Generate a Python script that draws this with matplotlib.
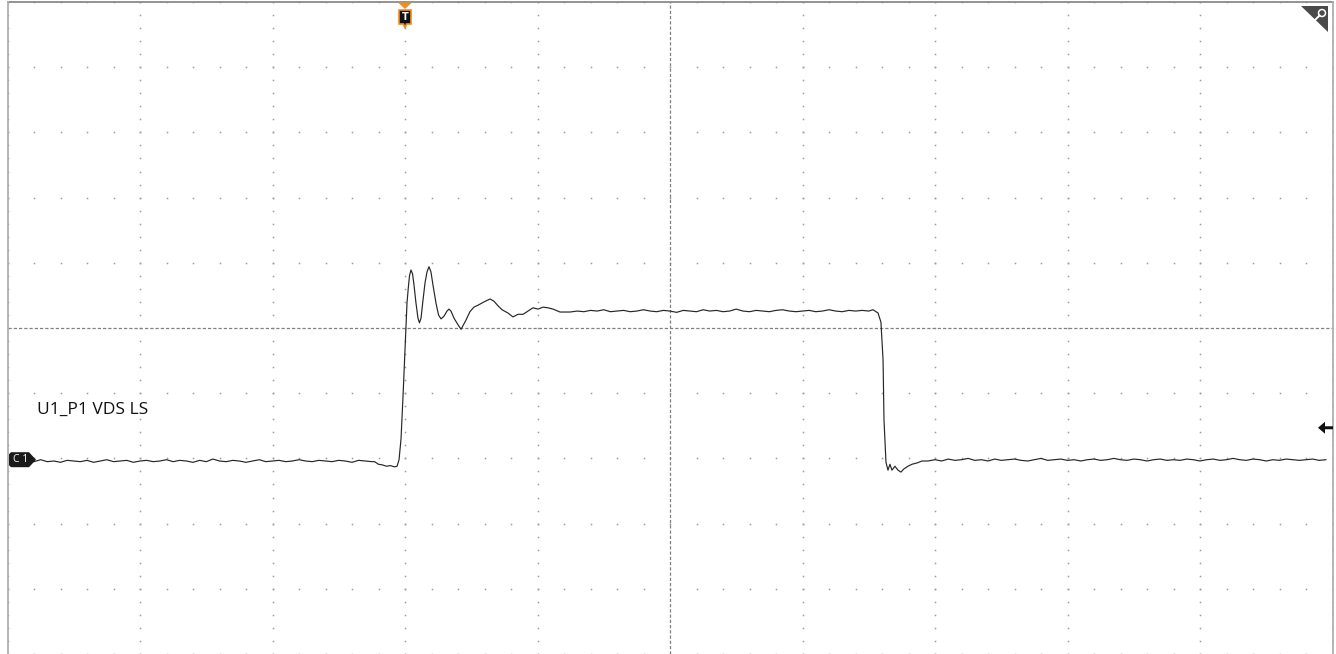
"""
Oscilloscope capture of U1_P1 VDS LS redrawn with matplotlib.
Trace values are read off the screen in divisions (10 x 10 grid, centre = 0).
"""

import numpy as np
import matplotlib
matplotlib.use("Agg")
import matplotlib.pyplot as plt
from matplotlib.patches import Polygon, Circle
from matplotlib.lines import Line2D
from matplotlib.transforms import IdentityTransform

# ------------------------------------------------------------
# Trace data (time / voltage in screen divisions)
# ------------------------------------------------------------
base_left_t = [-4.95, -4.90, -4.85, -4.80, -4.75, -4.70, -4.65, -4.60, -4.55, -4.50,
               -4.45, -4.40, -4.35, -4.30, -4.25, -4.20, -4.15, -4.10, -4.05, -4.00,
               -3.95, -3.90, -3.85, -3.80, -3.75, -3.70, -3.65, -3.60, -3.55, -3.50,
               -3.45, -3.40, -3.35, -3.30, -3.25, -3.20, -3.15, -3.10, -3.05, -3.00,
               -2.95, -2.90, -2.85, -2.80, -2.75, -2.70, -2.65, -2.60, -2.55, -2.50,
               -2.45, -2.40, -2.35, -2.30, -2.25]
base_left_v = [-2.03, -2.06, -2.04, -2.05, -2.02, -2.05, -2.04, -2.06, -2.03, -2.04,
               -2.05, -2.03, -2.06, -2.04, -2.02, -2.05, -2.04, -2.03, -2.06, -2.04,
               -2.03, -2.05, -2.04, -2.02, -2.05, -2.03, -2.04, -2.06, -2.03, -2.05,
               -2.01, -2.04, -2.05, -2.03, -2.04, -2.06, -2.04, -2.02, -2.05, -2.04,
               -2.03, -2.05, -2.04, -2.02, -2.04, -2.05, -2.03, -2.04, -2.05, -2.03,
               -2.04, -2.06, -2.03, -2.04, -2.05]

edge_up_t = [-2.23, -2.20, -2.17, -2.14, -2.11, -2.08, -2.06, -2.045, -2.03, -2.015,
             -2.00, -1.985, -1.975, -1.966, -1.955, -1.943, -1.932, -1.917, -1.902, -1.891,
             -1.879, -1.864, -1.849, -1.834, -1.819, -1.804, -1.789, -1.766, -1.747, -1.728,
             -1.706, -1.683, -1.668, -1.653, -1.630, -1.600, -1.577, -1.540, -1.510, -1.480,
             -1.449, -1.404, -1.358, -1.328, -1.298, -1.268, -1.223, -1.185, -1.147, -1.109,
             -1.072, -1.034, -0.996, -0.958, -0.921, -0.883, -0.830, -0.755]
edge_up_v = [-2.05, -2.09, -2.10, -2.12, -2.11, -2.13, -2.12, -2.02, -1.70, -1.05,
             -0.35, 0.38, 0.62, 0.80, 0.89, 0.83, 0.66, 0.38, 0.15, 0.08,
             0.15, 0.43, 0.69, 0.86, 0.94, 0.86, 0.66, 0.38, 0.20, 0.14,
             0.18, 0.26, 0.29, 0.26, 0.15, 0.05, -0.02, 0.12, 0.25, 0.32,
             0.35, 0.40, 0.445, 0.41, 0.34, 0.28, 0.23, 0.17, 0.21, 0.21,
             0.26, 0.31, 0.29, 0.32, 0.31, 0.29, 0.245, 0.245]

top_t = [-0.70, -0.65, -0.60, -0.55, -0.50, -0.45, -0.40, -0.35, -0.30, -0.25,
         -0.20, -0.15, -0.10, -0.05, 0.00, 0.05, 0.10, 0.15, 0.20, 0.25,
         0.30, 0.35, 0.40, 0.45, 0.50, 0.55, 0.60, 0.65, 0.70, 0.75,
         0.80, 0.85, 0.90, 0.95, 1.00, 1.05, 1.10, 1.15, 1.20, 1.25,
         1.30, 1.35, 1.40, 1.45, 1.50]
top_v = [0.26, 0.25, 0.27, 0.26, 0.28, 0.25, 0.26, 0.27, 0.25, 0.26,
         0.28, 0.26, 0.25, 0.27, 0.26, 0.24, 0.27, 0.26, 0.25, 0.28,
         0.26, 0.27, 0.25, 0.26, 0.29, 0.26, 0.25, 0.27, 0.26, 0.25,
         0.27, 0.28, 0.26, 0.25, 0.26, 0.27, 0.25, 0.26, 0.28, 0.26,
         0.25, 0.27, 0.26, 0.27, 0.26]

edge_down_t = [1.532, 1.57, 1.592, 1.608, 1.615, 1.63, 1.645, 1.66, 1.675, 1.698,
               1.72, 1.743, 1.766, 1.796, 1.826, 1.864, 1.902, 1.947]
edge_down_v = [0.28, 0.23, 0.09, -0.49, -1.41, -2.06, -2.18, -2.09, -2.18, -2.12,
               -2.18, -2.21, -2.16, -2.12, -2.09, -2.07, -2.04, -2.04]

base_right_t = [2.00, 2.05, 2.10, 2.15, 2.20, 2.25, 2.30, 2.35, 2.40, 2.45,
                2.50, 2.55, 2.60, 2.65, 2.70, 2.75, 2.80, 2.85, 2.90, 2.95,
                3.00, 3.05, 3.10, 3.15, 3.20, 3.25, 3.30, 3.35, 3.40, 3.45,
                3.50, 3.55, 3.60, 3.65, 3.70, 3.75, 3.80, 3.85, 3.90, 3.95,
                4.00, 4.05, 4.10, 4.15, 4.20, 4.25, 4.30, 4.35, 4.40, 4.45,
                4.50, 4.55, 4.60, 4.65, 4.70, 4.75, 4.80, 4.85, 4.90, 4.95]
base_right_v = [-2.02, -2.04, -2.01, -2.03, -2.02, -2.00, -2.03, -2.02, -2.04, -2.01,
                -2.03, -2.02, -2.01, -2.03, -2.04, -2.02, -2.00, -2.03, -2.02, -2.01,
                -2.03, -2.02, -2.04, -2.02, -2.01, -2.03, -2.02, -2.00, -2.02, -2.03,
                -2.01, -2.02, -2.04, -2.02, -2.01, -2.03, -2.02, -2.03, -2.01, -2.02,
                -2.04, -2.02, -2.01, -2.03, -2.02, -2.00, -2.02, -2.03, -2.01, -2.02,
                -2.04, -2.02, -2.03, -2.01, -2.02, -2.03, -2.02, -2.01, -2.03, -2.02]

channel_label = "U1_P1 VDS LS"
channel_tag = "C1"
trigger_t = -2.0      # trigger position (div)
ground_v = -2.02      # channel offset marker (div)
trig_level_v = -1.53  # trigger level arrow (div)

W, H = 1336, 654


def px(x, y_top):
    """image pixel (origin top-left) -> display coords"""
    return (x, H - y_top)


def main():
    fig = plt.figure(figsize=(W / 100, H / 100), dpi=100)
    fig.patch.set_facecolor("white")
    ax = fig.add_axes([7.5 / W, 0, 1325 / W, 652 / H])
    ax.set_xlim(-5, 5)
    ax.set_ylim(-5, 5)
    ax.set_axis_off()

    # dotted graticule
    minor = np.arange(-5, 5.001, 0.2)
    for g in range(-5, 6):
        if g == 0:
            continue
        ax.plot(np.full_like(minor, g), minor, ls="none", marker="s", ms=1.1,
                mec="none", mfc="#9a9a9a", zorder=1)
        ax.plot(minor, np.full_like(minor, g), ls="none", marker="s", ms=1.1,
                mec="none", mfc="#9a9a9a", zorder=1)
    ax.axvline(0, color="#808080", lw=0.9, ls=(0, (2.6, 1.6)), zorder=1)
    ax.axhline(0, color="#808080", lw=0.9, ls=(0, (2.6, 1.6)), zorder=1)

    # frame (top, left, right)
    ax.axhline(5, color="#8a8a8a", lw=1.3, clip_on=False, zorder=2)
    ax.axvline(-5, color="#b0b0b0", lw=1.3, clip_on=False, zorder=2)
    ax.axvline(5, color="#b0b0b0", lw=1.3, clip_on=False, zorder=2)

    # trace
    t = base_left_t + edge_up_t + top_t + edge_down_t + base_right_t
    v = base_left_v + edge_up_v + top_v + edge_down_v + base_right_v
    ax.plot(t, v, color="#262626", lw=0.85, zorder=3)

    # channel label
    ax.text(37, H - 410, channel_label, transform=IdentityTransform(),
            fontsize=12.5, family="Open Sans", color="#111111", va="center", ha="left")

    ident = IdentityTransform()

    # C1 offset tag
    gy = H - ax.transData.transform((0, ground_v))[1]
    tag = Polygon([px(11, gy - 7.5), px(29, gy - 7.5), px(36, gy), px(29, gy + 7.5),
                   px(11, gy + 7.5), px(9, gy + 5.5), px(9, gy - 5.5)],
                  closed=True, fc="#1a1a1a", ec="none", transform=ident, zorder=5)
    fig.add_artist(tag)
    fig.text(21 / W, (H - gy) / H, "C 1", color="white", fontsize=7.5,
             ha="center", va="center", family="Open Sans", zorder=6)

    # trigger position marker
    tx = ax.transData.transform((trigger_t, 0))[0]
    tri = Polygon([px(tx - 7, 2.5), px(tx + 7, 2.5), px(tx, 9)], closed=True,
                  fc="#f28c1e", ec="none", transform=ident, zorder=5)
    box = Polygon([px(tx - 6, 10), px(tx + 6, 10), px(tx + 6, 24), px(tx + 1.5, 24),
                   px(tx, 28), px(tx - 1.5, 24), px(tx - 6, 24)], closed=True,
                  fc="#111111", ec="#f28c1e", lw=1.2, transform=ident, zorder=5)
    fig.add_artist(tri)
    fig.add_artist(box)
    fig.text(tx / W, (H - 17) / H, "T", color="white", fontsize=7, weight="bold",
             ha="center", va="center", zorder=6)

    # zoom corner
    corner = Polygon([px(1301, 6), px(1328, 6), px(1328, 32)], closed=True,
                     fc="#4a4a4a", ec="none", transform=ident, zorder=5)
    fig.add_artist(corner)
    fig.add_artist(Circle(px(1322, 13), 3.5, fc="none", ec="white", lw=1.1,
                          transform=ident, zorder=6))
    fig.add_artist(Line2D([1319.5, 1314], [H - 15.5, H - 21], color="white", lw=1.4,
                          transform=ident, zorder=6))

    # trigger level arrow
    ly = H - ax.transData.transform((0, trig_level_v))[1]
    arrow = Polygon([px(1318, ly), px(1325, ly - 6), px(1325, ly - 1.5), px(1333, ly - 1.5),
                     px(1333, ly + 1.5), px(1325, ly + 1.5), px(1325, ly + 6)], closed=True,
                    fc="#111111", ec="none", transform=ident, zorder=5)
    fig.add_artist(arrow)

    fig.savefig("out.png", dpi=100, facecolor="white")
    plt.close(fig)


if __name__ == "__main__":
    main()
